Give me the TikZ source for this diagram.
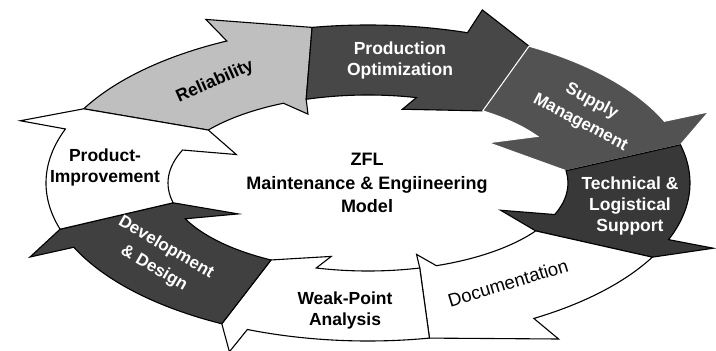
\documentclass[tikz,border=0pt]{standalone}
\usepackage{fontspec}
\setmainfont{Liberation Sans}

% one arrow of the ring: tail (outer, inner), head (outer, inner), cut (outer, inner)
\newcommand{\segarrow}[7]{%
  \filldraw[ringarrow,#7] ({368+322*cos(#1)},{168+158*sin(#1)})
    arc[start angle=#1, end angle=#3, x radius=322, y radius=158]
    -- ({368+370*cos(#3)},{168+182*sin(#3)})
    -- ({368+322*cos(#5)},{168+158*sin(#5)})
    -- ({368+200*cos(#6)},{168+88*sin(#6)})
    -- ({368+142*cos(#4)},{168+76*sin(#4)})
    -- ({368+200*cos(#4)},{168+88*sin(#4)})
    arc[start angle=#4, end angle=#2, x radius=200, y radius=88]
    -- cycle;}

\tikzset{
  ringarrow/.style={draw=black, line width=1.1pt, line join=miter},
  ringtext/.style={font=\bfseries\fontsize{17.5}{21}\selectfont, align=center, inner sep=0pt},
  tilttext/.style={ringtext, font=\bfseries\fontsize{17}{24}\selectfont}
}

\begin{document}
\begin{tikzpicture}[x=1pt,y=1pt]
\useasboundingbox (0,0) rectangle (716,351);

\segarrow{152}{143}{116}{115}{100}{108}{fill=black!25}
\segarrow{100}{108}{72}{76}{60}{55}{fill=black!72}
\segarrow{60}{55}{23}{32}{14}{8}{fill=black!68, draw=white}
\segarrow{14}{8}{-21}{-21}{-28}{-33}{fill=black!78}
\segarrow{-28}{-33}{-59}{-70}{-79}{-75}{fill=white}
\segarrow{-79}{-75}{-112}{-105}{-117}{-119}{fill=white}
\segarrow{243}{241}{204}{204}{197}{193}{fill=black!75}
\segarrow{197}{193}{160}{158}{152}{143}{fill=white}

\node[ringtext, rotate=24] (rel) at (215,269) {Reliability};
\node[ringtext, text=white] (prod) at (400,291) {Production\\Optimization};
\node[tilttext, text=white, rotate=-28] (supp) at (586,239) {Supply\\Management};
\node[ringtext, text=white] (tech) at (630,145) {Technical \&\\Logistical\\Support};
\node[ringtext, font=\fontsize{18.5}{21}\selectfont, rotate=17] (doc) at (508,68) {Documentation};
\node[ringtext] (weak) at (345,41) {Weak-Point\\Analysis};
\node[tilttext, text=white, rotate=-30] (dev) at (160,93) {Development\\\& Design};
\node[ringtext] (impr) at (105,184) {Product-\\Improvement};

\node[ringtext, font=\bfseries\fontsize{18}{23.5}\selectfont] (model) at (367,168)
  {ZFL\\Maintenance \& Engiineering\\Model};
\end{tikzpicture}
\end{document}
